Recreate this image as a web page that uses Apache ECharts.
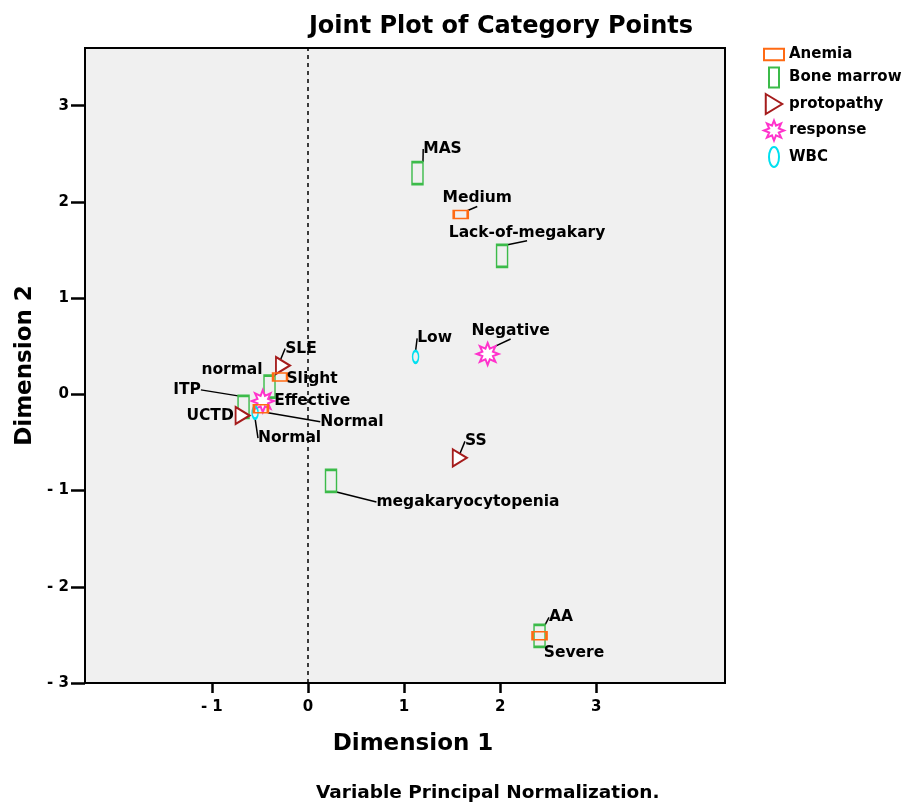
<!DOCTYPE html>
<html>
<head>
<meta charset="utf-8">
<script src="https://cdn.jsdelivr.net/npm/echarts@6/dist/echarts.min.js"></script>
<style>
  html, body { margin: 0; padding: 0; background: #fff; }
  #chart { width: 905px; height: 804px; }
</style>
</head>
<body>
<div id="chart"></div>
<script>
// ---- Data ----
const seriesNames = ['Anemia', 'Bone marrow', 'protopathy', 'response', 'WBC'];

const anemiaLabels = ['Medium', 'Slight', 'Normal', 'Severe'];
const anemiaX = [1.59, -0.29, -0.49, 2.41];
const anemiaY = [1.87, 0.18, -0.15, -2.51];

const boneLabels = ['MAS', 'Lack-of-megakary', 'normal', 'ITP', 'megakaryocytopenia', 'AA'];
const boneX = [1.14, 2.02, -0.40, -0.67, 0.24, 2.41];
const boneY = [2.30, 1.44, 0.08, -0.13, -0.90, -2.51];

const protoLabels = ['SLE', 'UCTD', 'SS'];
const protoX = [-0.26, -0.68, 1.58];
const protoY = [0.30, -0.22, -0.66];

const responseLabels = ['Negative', 'Effective'];
const responseX = [1.87, -0.47];
const responseY = [0.42, -0.07];

const wbcLabels = ['Low', 'Normal'];
const wbcX = [1.12, -0.55];
const wbcY = [0.39, -0.19];

const xTicks = [-1, 0, 1, 2, 3];
const yTicks = [-3, -2, -1, 0, 1, 2, 3];

// ---- Label placement (pixel offsets of label centre from the point) ----
const labelOffsets = [
  [[16.5, -16], [32, 1.5], [91, 13], [34.5, 17]],
  [[25, -24], [25, -23], [-37.5, -17], [-56.5, -17], [137, 21], [21.5, -18.5]],
  [[18, -17], [-32.5, 0], [16, -16.5]],
  [[23, -23], [49.5, 0]],
  [[19, -18.5], [34.5, 25.5]]
];
const showLines = [
  [true, false, true, false],
  [true, true, false, true, true, true],
  [true, false, true],
  [true, true],
  [true, true]
];

// ---- Symbols ----
function starPath() {
  const pts = [];
  const n = 8, ro = 10, ri = 5.2;
  for (let i = 0; i < n * 2; i++) {
    const r = i % 2 === 0 ? ro : ri;
    const a = Math.PI * i / n - Math.PI / 2;
    pts.push((10 + r * Math.cos(a)).toFixed(2) + ',' + (10 + r * Math.sin(a)).toFixed(2));
  }
  return 'path://M' + pts.join('L') + 'Z';
}
const SYM = {
  rectH: 'path://M0,0H14V8H0Z',
  rectV: 'path://M0,0H11V22H0Z',
  tri: 'path://M0,0L14,8.5L0,17Z',
  star: starPath(),
  ell: 'path://M5,0A5,10 0 1,1 5,20A5,10 0 1,1 5,0Z'
};
const colors = ['#ff6a13', '#3cbb4a', '#a51c1c', '#ff33cc', '#00e0f0'];
const symbols = [SYM.rectH, SYM.rectV, SYM.tri, SYM.star, SYM.ell];
const sizes = [[14, 8], [11, 22], [14, 17], [22, 22], [6, 12]];
const fills = ['rgba(0,0,0,0)', 'rgba(0,0,0,0)', '#ffffff', '#ffffff', 'rgba(0,0,0,0)'];
const zs = [5, 3, 4, 4, 4];

const xs = [anemiaX, boneX, protoX, responseX, wbcX];
const ys = [anemiaY, boneY, protoY, responseY, wbcY];
const labs = [anemiaLabels, boneLabels, protoLabels, responseLabels, wbcLabels];

const fontFamily = '"DejaVu Sans", "Liberation Sans", Arial, sans-serif';

function tickFmt(v) { return v < 0 ? '- ' + Math.abs(v) : String(v); }

const series = seriesNames.map(function (name, si) {
  return {
    name: name,
    type: 'scatter',
    z: zs[si],
    symbol: symbols[si],
    symbolSize: sizes[si],
    symbolKeepAspect: false,
    itemStyle: { color: fills[si], borderColor: colors[si], borderWidth: 2, opacity: 1 },
    emphasis: { disabled: true },
    data: xs[si].map(function (x, i) {
      return {
        name: labs[si][i],
        value: [x, ys[si][i]],
        labelLine: { show: showLines[si][i] }
      };
    }),
    label: {
      show: true,
      position: 'inside',
      formatter: '{b}',
      color: '#000',
      fontFamily: fontFamily,
      fontWeight: 'bold',
      fontSize: 15.5
    },
    labelLine: { show: true, lineStyle: { color: '#000', width: 1.5 } },
    labelLayout: function (p) {
      const o = labelOffsets[p.seriesIndex][p.dataIndex];
      return {
        x: p.rect.x + p.rect.width / 2 + o[0],
        y: p.rect.y + p.rect.height / 2 + o[1],
        align: 'center',
        verticalAlign: 'middle',
        hideOverlap: false
      };
    }
  };
});

// dashed reference line at x = 0
series.push({
  type: 'line',
  z: 1,
  silent: true,
  data: [],
  markLine: {
    silent: true,
    symbol: 'none',
    label: { show: false },
    lineStyle: { color: '#000', type: [4, 4], width: 1.5 },
    data: [{ xAxis: 0 }]
  }
});

const legendIcons = [
  'path://M0,3H14V11H0Z',
  SYM.rectV,
  SYM.tri,
  SYM.star,
  'path://M5,0A5,10 0 1,1 5,20A5,10 0 1,1 5,0Z'
];

const option = {
  backgroundColor: '#ffffff',
  animation: false,
  title: {
    text: 'Joint Plot of Category Points',
    left: 496,
    top: 10,
    textAlign: 'center',
    textStyle: { fontFamily: fontFamily, fontWeight: 'bold', fontSize: 24, color: '#000' }
  },
  legend: {
    orient: 'vertical',
    left: 758,
    top: 42,
    itemWidth: 20,
    itemHeight: 20,
    itemGap: 4.5,
    selectedMode: false,
    textStyle: { fontFamily: fontFamily, fontWeight: 'bold', fontSize: 15, color: '#000' },
    data: seriesNames.map(function (n, i) {
      return { name: n, icon: legendIcons[i], itemStyle: { color: fills[i] === 'rgba(0,0,0,0)' ? '#ffffff' : fills[i], borderColor: colors[i], borderWidth: 2 } };
    })
  },
  grid: {
    left: 85, right: 180, top: 48, bottom: 121,
    show: true,
    backgroundColor: '#f0f0f0',
    borderColor: '#000',
    borderWidth: 2
  },
  xAxis: {
    type: 'value',
    min: -2.32,
    max: 4.34,
    name: 'Dimension 1',
    nameLocation: 'middle',
    nameGap: 50,
    nameTextStyle: { fontFamily: fontFamily, fontWeight: 'bold', fontSize: 23, color: '#000', padding: [0, 0, 0, 16] },
    axisLine: { show: true, onZero: false, lineStyle: { color: '#000', width: 2 } },
    axisTick: { show: true, length: 10, lineStyle: { color: '#000', width: 2.5 }, customValues: xTicks },
    axisLabel: {
      customValues: xTicks,
      formatter: tickFmt,
      margin: 17,
      fontFamily: fontFamily, fontWeight: 'bold', fontSize: 15, color: '#000'
    },
    splitLine: { show: false }
  },
  yAxis: {
    type: 'value',
    min: -3,
    max: 3.60,
    name: 'Dimension 2',
    nameLocation: 'middle',
    nameGap: 47,
    nameRotate: 90,
    nameTextStyle: { fontFamily: fontFamily, fontWeight: 'bold', fontSize: 23, color: '#000' },
    axisLine: { show: true, onZero: false, lineStyle: { color: '#000', width: 2 } },
    axisTick: { show: true, length: 14, lineStyle: { color: '#000', width: 2.5 }, customValues: yTicks },
    axisLabel: {
      customValues: yTicks,
      formatter: tickFmt,
      margin: 16,
      fontFamily: fontFamily, fontWeight: 'bold', fontSize: 15, color: '#000'
    },
    splitLine: { show: false }
  },
  graphic: [{
    type: 'text',
    left: 316,
    top: 784,
    style: {
      text: 'Variable Principal Normalization.',
      fill: '#000',
      font: 'bold 18.5px ' + fontFamily
    }
  }],
  series: series
};

const chart = echarts.init(document.getElementById('chart'), null, { renderer: 'canvas' });
chart.setOption(option);
</script>
</body>
</html>
